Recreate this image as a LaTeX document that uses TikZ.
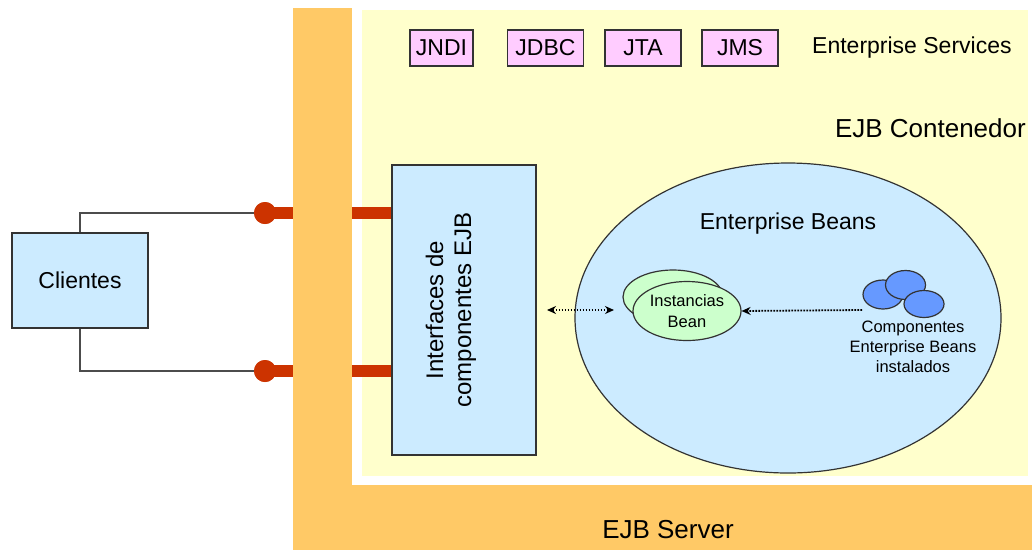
\documentclass[tikz,border=0pt]{standalone}
\usepackage{fontspec}
\setmainfont{Liberation Sans}
\usetikzlibrary{arrows.meta,shapes.geometric}
\definecolor{orng}{HTML}{FFC966}
\definecolor{ylw}{HTML}{FFFFCC}
\definecolor{lblue}{HTML}{CCEBFF}
\definecolor{pnk}{HTML}{FFCCFF}
\definecolor{lgreen}{HTML}{CCFFCC}
\definecolor{bblue}{HTML}{6699FF}
\definecolor{rd}{HTML}{CC3300}
\newcommand{\fs}[2]{\fontsize{#1}{#2}\selectfont}
\begin{document}
\begin{tikzpicture}[x=1pt,y=-1pt,
  svc/.style={draw=black!80,line width=1.2pt,fill=pnk,minimum height=36,inner sep=0pt,font=\fs{23}{26}},
  bluebox/.style={draw=black!80,line width=1.2pt,fill=lblue,inner sep=0pt},
  wire/.style={draw=black!70,line width=1.2pt},
  plug/.style={draw=rd,line width=12pt},
  knob/.style={circle,fill=rd,minimum size=22,inner sep=0pt},
  dotarrow/.style={dash pattern=on 1.6pt off 1.4pt,line width=1.8pt,-{Stealth[length=9pt,width=8pt]}},
  ell/.style={ellipse,draw=black!80,line width=1.2pt,inner sep=0pt},
  ]
\useasboundingbox (0,0) rectangle (1032,550);
% backgrounds
\fill[orng] (293,8) rectangle (352,550);
\fill[orng] (293,485) rectangle (1032,550);
\fill[ylw] (362,10) rectangle (1028,476);
% services
\node[svc,minimum width=63] (jndi) at (441.5,48) {JNDI};
\node[svc,minimum width=76] (jdbc) at (545.5,48) {JDBC};
\node[svc,minimum width=76] (jta) at (643,48) {JTA};
\node[svc,minimum width=76] (jms) at (740,48) {JMS};
\node[anchor=west,font=\fs{23}{26},inner sep=0pt] (es) at (812,48) {Enterprise Services};
\node[anchor=east,font=\fs{26}{30},inner sep=0pt] (cont) at (1026,128) {EJB Contenedor};
\node[font=\fs{26}{30}] (server) at (668,530) {EJB Server};
% clientes
\node[bluebox,minimum width=136,minimum height=95,font=\fs{23}{26}] (cli) at (80,280.5) {Clientes};
% interfaces
\node[bluebox,minimum width=144,minimum height=290] (ifc) at (464,310) {};
\node[rotate=90,align=center,font=\fs{24}{28}] (ifct) at (451,310) {Interfaces de\\componentes EJB};
% enterprise beans ellipse
\node[ell,fill=lblue,minimum width=426,minimum height=310] (eb) at (788,318) {};
\node[font=\fs{23}{26}] (ebt) at (788,224) {Enterprise Beans};
% instancias
\node[ell,fill=lgreen,minimum width=100,minimum height=54] (ib2) at (673,297) {};
\node[ell,fill=lgreen,minimum width=108,minimum height=59,align=center,font=\fs{16.5}{21}] (ib) at (687,311) {Instancias\\Bean};
% components
\node[ell,fill=bblue,minimum width=40,minimum height=29] (b1) at (883,294.5) {};
\node[ell,fill=bblue,minimum width=40,minimum height=29] (b2) at (905.5,285) {};
\node[ell,fill=bblue,minimum width=40,minimum height=27] (b3) at (924,304) {};
\node[align=center,font=\fs{16.5}{20}] (comp) at (913,347) {Componentes\\Enterprise Beans\\instalados};
% connectors
\node[knob] (k1) at (265,213) {};
\node[knob] (k2) at (265,371) {};
\coordinate (o1) at (293,213);
\coordinate (o2) at (293,371);
\coordinate (i1) at (352,213);
\coordinate (i2) at (352,371);
\draw[wire] (cli.north) |- (k1.center);
\draw[wire] (cli.south) |- (k2.center);
\draw[plug] (k1.center) -- (o1);
\draw[plug] (k2.center) -- (o2);
\draw[plug] (i1) -- (ifc.west |- i1);
\draw[plug] (i2) -- (ifc.west |- i2);
\node[knob] at (k1) {};
\node[knob] at (k2) {};
\coordinate (a1) at (547,310);
\coordinate (a2) at (614,310);
\draw[dotarrow,{Stealth[length=9pt,width=8pt]}-{Stealth[length=9pt,width=8pt]}] (a1) -- (a2);
\coordinate (a3) at (862,310);
\draw[dotarrow] (a3) -- (ib.east);
\end{tikzpicture}
\end{document}
